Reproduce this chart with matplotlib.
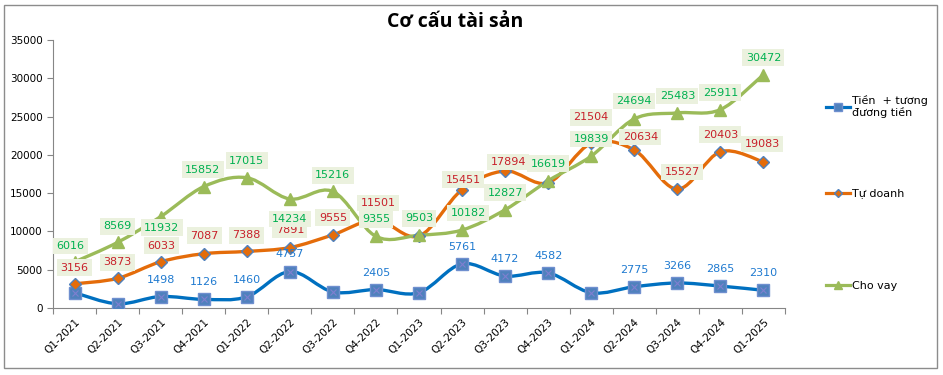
import matplotlib
matplotlib.use('Agg')
import matplotlib.pyplot as plt
from matplotlib.path import Path
from matplotlib.patches import PathPatch, Rectangle
from matplotlib.lines import Line2D

quarters = ['Q1-2021', 'Q2-2021', 'Q3-2021', 'Q4-2021', 'Q1-2022', 'Q2-2022',
            'Q3-2022', 'Q4-2022', 'Q1-2023', 'Q2-2023', 'Q3-2023', 'Q4-2023',
            'Q1-2024', 'Q2-2024', 'Q3-2024', 'Q4-2024', 'Q1-2025']
tien = [2000, 550, 1498, 1126, 1460, 4757, 2100, 2405, 2000, 5761, 4172, 4582,
        2000, 2775, 3266, 2865, 2310]
tu_doanh = [3156, 3873, 6033, 7087, 7388, 7891, 9555, 11501, 9400, 15451, 17894,
            16350, 21504, 20634, 15527, 20403, 19083]
cho_vay = [6016, 8569, 11932, 15852, 17015, 14234, 15216, 9355, 9503, 10182,
           12827, 16619, 19839, 24694, 25483, 25911, 30472]

# label offsets in pixels (dx, dy up), None = label hidden
off_tien = [None, None, (0, 17), (0, 17), (0, 17), (0, 18), None, (0, 17), None,
            (0, 17), (0, 17), (0, 17), None, (0, 17), (0, 17), (0, 17), (0, 17)]
off_td = [(0, 16), (0, 16), (1, 16), (1, 18), (0, 16), (0, 18), (0, 17), (2, 17), None,
          (1, 10), (3, 9), None, (0, 26), (6, 13), (5, 17), (0, 17), (-1, 18)]
off_cv = [(-4, 16), (0, 16), (1, -11), (-1, 17), (0, 17), (0, -20), (0, 16), (0, 17),
          (0, 17), (6, 17), (0, 17), (0, 17), (0, 17), (0, 18), (0, 17), (0, 17), (0, 17)]

plt.rcParams['font.family'] = ['DejaVu Sans']

fig = plt.figure(figsize=(9.43, 3.75), dpi=100)
fig.patches.append(Rectangle((0.004, 0.018), 0.99, 0.97, transform=fig.transFigure,
                             fill=False, ec='#8c8c8c', lw=1))
ax = fig.add_axes([0.0562, 0.1787, 0.7762, 0.7146])


def smooth(ax, ys, color):
    xs = list(range(len(ys)))
    pts = list(zip(xs, ys))
    verts = [pts[0]]
    codes = [Path.MOVETO]
    n = len(pts)
    for i in range(n - 1):
        p0 = pts[i - 1] if i > 0 else pts[i]
        p1 = pts[i]
        p2 = pts[i + 1]
        p3 = pts[i + 2] if i + 2 < n else pts[i + 1]
        c1 = (p1[0] + (p2[0] - p0[0]) / 6, p1[1] + (p2[1] - p0[1]) / 6)
        c2 = (p2[0] - (p3[0] - p1[0]) / 6, p2[1] - (p3[1] - p1[1]) / 6)
        verts += [c1, c2, p2]
        codes += [Path.CURVE4] * 3
    ax.add_patch(PathPatch(Path(verts, codes), fill=False, ec=color, lw=2.4,
                           zorder=2, capstyle='round'))


series = [
    (tien, '#0070C0', 's', 8.5, '#4F81BD', '#6F8FCF', off_tien, '#1F7AD0', False,
     'Tiền  + tương\nđương tiền'),
    (tu_doanh, '#E46C0A', 'D', 6, '#E46C0A', '#4F81BD', off_td, '#C8202A', True, 'Tự doanh'),
    (cho_vay, '#9BBB59', '^', 8, '#9BBB59', '#9BBB59', off_cv, '#00B050', True, 'Cho vay'),
]
legend_y = [0.716, 0.484, 0.238]

for k, (ys, col, mk, ms, mfc, mec, offs, tcol, box, name) in enumerate(series):
    smooth(ax, ys, col)
    ax.plot(range(len(ys)), ys, ls='none', marker=mk, ms=ms, mfc=mfc, mec=mec,
            mew=1, zorder=3)
    if mk == 's':
        ax.plot(range(len(ys)), ys, ls='none', marker='x', ms=5, mec='#7F7FD0',
                mew=0.8, zorder=3)
    h = Line2D([], [], color=col, lw=2.3, marker=mk, ms=ms * 0.75,
               mfc=mfc, mec=mec, label=name)
    fig.legend(handles=[h], loc='center left', bbox_to_anchor=(0.865, legend_y[k]),
               frameon=False, fontsize=8, handlelength=2.2, handletextpad=0.2)
    for i, v in enumerate(ys):
        if offs[i] is None:
            continue
        dx, dy = offs[i]
        bb = dict(boxstyle='square,pad=0.3', fc='#EBF1DE', ec='none') if box else None
        ax.annotate(str(v), (i, v), xytext=(dx * 0.72, dy * 0.72),
                    textcoords='offset points', ha='center', va='center',
                    fontsize=8, color=tcol, bbox=bb, zorder=5)

ax.set_xlim(-0.5, len(quarters) - 0.5)
ax.set_ylim(0, 35000)
ax.set_yticks(range(0, 35001, 5000))
ax.set_xticks([i - 0.5 for i in range(len(quarters) + 1)])
ax.set_xticklabels([])
ax.set_xticks(range(len(quarters)), minor=True)
ax.set_xticklabels(quarters, minor=True, rotation=45, ha='right',
                   rotation_mode='anchor', fontsize=7.5)
ax.tick_params(axis='x', which='minor', length=0, pad=6)
ax.tick_params(axis='x', which='major', length=4, color='#868686')
ax.tick_params(axis='y', labelsize=7.5, length=4, color='#868686')
for s in ['top', 'right']:
    ax.spines[s].set_visible(False)
for s in ['left', 'bottom']:
    ax.spines[s].set_color('#868686')

fig.text(0.4825, 0.941, 'Cơ cấu tài sản', ha='center', va='center', fontsize=14,
         fontweight='bold', family=['Open Sans', 'DejaVu Sans'])

fig.savefig('out.png', dpi=100)
